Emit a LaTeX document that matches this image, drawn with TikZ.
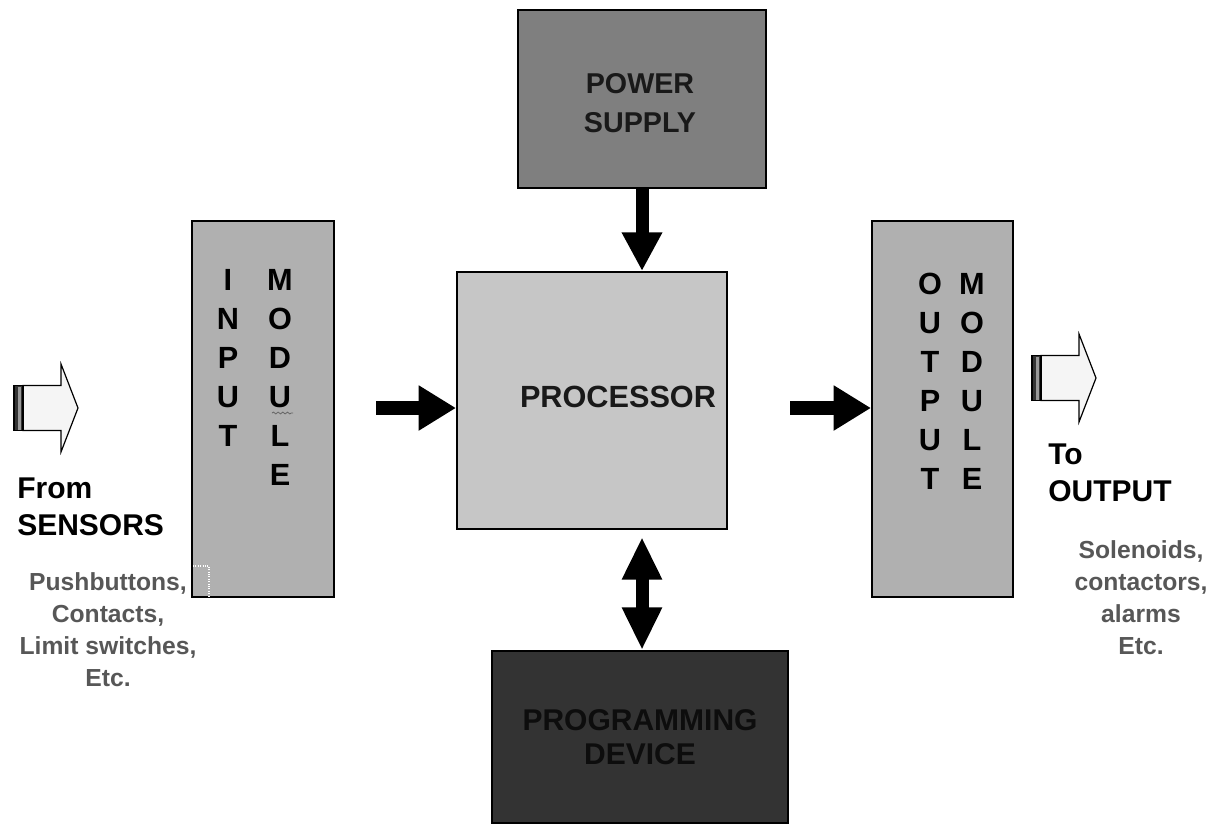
\documentclass[tikz,border=0pt]{standalone}
\usepackage{fontspec}
\setmainfont{Liberation Sans}
\usetikzlibrary{arrows.meta,decorations.pathmorphing}

\definecolor{procgray}{HTML}{C6C6C6}
\definecolor{modgray}{HTML}{B0B0B0}
\definecolor{powergray}{HTML}{7F7F7F}
\definecolor{proggray}{HTML}{333333}
\definecolor{notegray}{HTML}{575757}

\tikzset{
  block/.style={draw=black, line width=1.5pt, inner sep=0pt, align=center,
    font=\bfseries\fontsize{22.5}{26}\selectfont},
  letters/.style={align=center, inner sep=0pt, font=\bfseries\fontsize{23}{29.25}\selectfont},
  heading/.style={align=left, anchor=west, inner sep=0pt, font=\bfseries\fontsize{22.5}{28}\selectfont},
  note/.style={align=center, inner sep=0pt, text=notegray, font=\bfseries\fontsize{18.5}{24}\selectfont},
  bigarrow/.style={line width=10.5pt, -{Triangle[length=28pt, width=32pt]}},
  hollow arrow/.pic={
    \draw[fill=black!4, line width=0.9pt] (9,-22.5) -- (47,-22.5) -- (47,-44) -- (64,0)
      -- (47,44) -- (47,22.5) -- (9,22.5) -- cycle;
    \draw[fill=black!80, line width=0.9pt] (0,-22.5) rectangle (9,22.5);
    \fill[black!40] (4,-21.5) rectangle (6.5,21.5);
  }
}

\begin{document}
\begin{tikzpicture}[x=0.75pt, y=-0.75pt]
    \useasboundingbox (0,0) rectangle (1224,825);

    % Blocks
    \node[block, fill=powergray, minimum width=186pt, minimum height=133.5pt] (power) at (642,99) {};
    \node[block, fill=procgray, minimum width=202.5pt, minimum height=192.75pt] (proc) at (592,400.5) {};
    \node[block, fill=modgray, minimum width=106.5pt, minimum height=282pt] (inmod) at (263,409) {};
    \node[block, fill=modgray, minimum width=105.75pt, minimum height=282pt] (outmod) at (942.5,409) {};
    \node[block, fill=proggray, text=black!95, minimum width=222pt, minimum height=129pt] (prog) at (640,737) {PROGRAMMING\\DEVICE};

    % Block texts
    \node[align=center, inner sep=0pt, text=black!90, font=\bfseries\fontsize{21.5}{29}\selectfont] (powertxt) at (640,103) {POWER\\SUPPLY};
    \node[inner sep=0pt, text=black!90, font=\bfseries\fontsize{23}{26}\selectfont] (proctxt) at (618,397) {PROCESSOR};

    % Module lettering
    \node[letters] (intxt) at (228,358) {I\\N\\P\\U\\T};
    \node[letters] (inmodtxt) at (280,377.5) {M\\O\\D\\U\\L\\E};
    \node[letters] (outtxt) at (930,381) {O\\U\\T\\P\\U\\T};
    \node[letters] (outmodtxt) at (972,381) {M\\O\\D\\U\\L\\E};
    \draw[black!60, line width=0.6pt, decorate, decoration={snake, amplitude=0.7pt, segment length=3.5pt}] (272,413) -- (293,413);
    \draw[white, densely dotted, line width=0.8pt] (193,566) -- (209,566) -- (209,596);

    % Arrows
    \coordinate (inA) at (376,408);
    \coordinate (outA) at (790,408);
    \coordinate (progA) at (642,537);
    \draw[bigarrow] (inA) -- (inA -| proc.west);
    \draw[bigarrow] (outA) -- (outA -| outmod.west);
    \draw[line width=9.75pt, -{Triangle[length=29pt, width=28.5pt]}] (power.south) -- (power.south |- proc.north);
    \draw[line width=9.75pt, {Triangle[length=32pt, width=28pt]}-{Triangle[length=32pt, width=28pt]}] (progA) -- (progA |- prog.north);

    % Sensors and outputs
    \pic at (14,408) {hollow arrow};
    \pic at (1032,378) {hollow arrow};
    \node[heading] (from) at (17,506.5) {From\\SENSORS};
    \node[note] (sensors) at (108,630) {Pushbuttons,\\Contacts,\\Limit switches,\\Etc.};
    \node[heading] (to) at (1048,473) {To\\OUTPUT};
    \node[note] (loads) at (1141,598) {Solenoids,\\contactors,\\alarms\\Etc.};
\end{tikzpicture}
\end{document}
